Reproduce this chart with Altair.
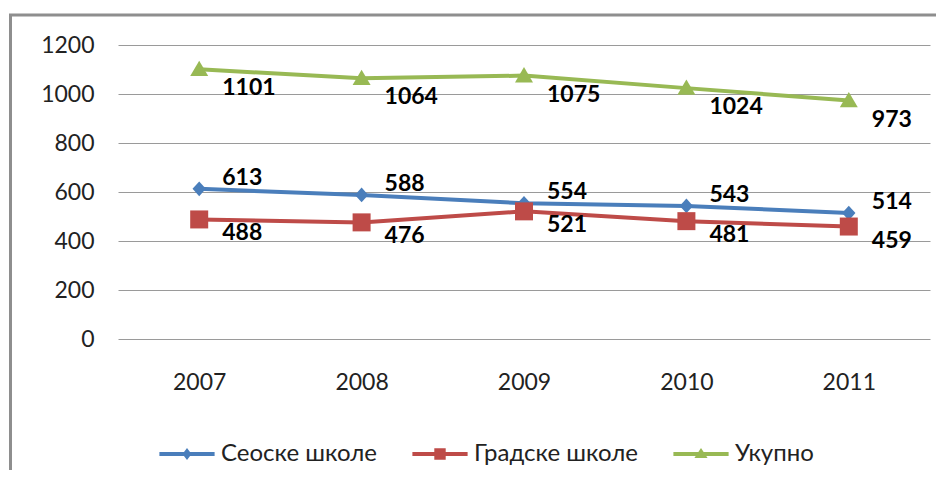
import altair as alt
import pandas as pd

years = ["2007", "2008", "2009", "2010", "2011"]
series = ["Сеоске школе", "Градске школе", "Укупно"]
seoske = [613, 588, 554, 543, 514]
gradske = [488, 476, 521, 481, 459]
ukupno = [1101, 1064, 1075, 1024, 973]
y_ticks = [0, 200, 400, 600, 800, 1000, 1200]

colors = ["#4A7EBB", "#BE4B48", "#98B954"]

rows = []
for name, vals in zip(series, [seoske, gradske, ukupno]):
    for yr, v in zip(years, vals):
        rows.append({"year": yr, "series": name, "value": v})
df = pd.DataFrame(rows)

FONT = "Lato"

x_enc = alt.X("year:O", title=None, sort=years,
              axis=alt.Axis(labelAngle=0, labelFontSize=23, labelFont=FONT,
                            labelColor="#222222", ticks=False, domain=False,
                            labelPadding=32, grid=False))
y_enc = alt.Y("value:Q", title=None,
              scale=alt.Scale(domain=[0, 1200], nice=False, zero=True),
              axis=alt.Axis(values=y_ticks, format="d", labelFontSize=23, labelFont=FONT,
                            labelColor="#222222", ticks=False, domain=False,
                            labelPadding=24, grid=True, gridColor="#9a9a9a",
                            gridWidth=1))

color_scale = alt.Scale(domain=series, range=colors)

base = alt.Chart(df)

lines = base.mark_line(strokeWidth=4).encode(
    x=x_enc, y=y_enc,
    color=alt.Color("series:N", scale=color_scale, legend=None),
)

plot_shapes = [
    "M0,-0.82L0.74,0L0,0.82L-0.74,0Z",
    "M-1,-1L1,-1L1,1L-1,1Z",
    "M0,-0.95L1,0.75L-1,0.75Z",
]
points = base.mark_point(filled=True, opacity=1, size=324, strokeWidth=0).encode(
    x=x_enc, y=y_enc,
    color=alt.Color("series:N", scale=color_scale, legend=None),
    shape=alt.Shape("series:N", scale=alt.Scale(domain=series, range=plot_shapes),
                    legend=None),
)

legend_shapes = [
    "M-4.6,-0.33L4.6,-0.33L4.6,0.33L-4.6,0.33Z M0,-1L0.75,0L0,1L-0.75,0Z",
    "M-4.6,-0.33L4.6,-0.33L4.6,0.33L-4.6,0.33Z M-0.95,-0.95L0.95,-0.95L0.95,0.95L-0.95,0.95Z",
    "M-4.6,-0.33L4.6,-0.33L4.6,0.33L-4.6,0.33Z M0,-1L1.1,0.65L-1.1,0.65Z",
]
leg = alt.Legend(title=None, orient="none", direction="horizontal",
                 legendX=57, legendY=397,
                 symbolSize=144, symbolOpacity=1, symbolStrokeWidth=0,
                 labelFont=FONT, labelFontSize=24, labelColor="#222222",
                 labelLimit=0, labelOffset=22, columnPadding=35)
legend_layer = base.mark_point(filled=True, opacity=0, strokeWidth=0).encode(
    x=x_enc, y=y_enc,
    color=alt.Color("series:N", scale=color_scale, legend=leg),
    shape=alt.Shape("series:N", scale=alt.Scale(domain=series, range=legend_shapes),
                    legend=leg),
)

label_dy = {"Сеоске школе": -11, "Градске школе": 14, "Укупно": 19}
text_layers = []
for name in series:
    t = base.transform_filter(alt.datum.series == name).mark_text(
        align="left", baseline="middle", dx=23, dy=label_dy[name],
        font=FONT, fontSize=23, fontWeight="bold", color="#000000",
    ).encode(x=x_enc, y=y_enc, text=alt.Text("value:Q"))
    text_layers.append(t)

frame = alt.Chart(pd.DataFrame({"a": [0]})).mark_rect(
    fill="transparent", stroke="#8e8e8e", strokeWidth=3
).encode(
    x=alt.value(-107.5), x2=alt.value(900),
    y=alt.value(-30), y2=alt.value(600),
)

chart = alt.layer(frame, lines, points, legend_layer, *text_layers).resolve_scale(
    shape="independent", color="independent"
).properties(
    width=812, height=294,
    autosize=alt.AutoSizeParams(type="none"),
    padding={"left": 110, "top": 37, "right": 6, "bottom": 131},
).configure_view(stroke=None)

chart.save("out.html", embed_options={"renderer": "svg", "actions": False})
